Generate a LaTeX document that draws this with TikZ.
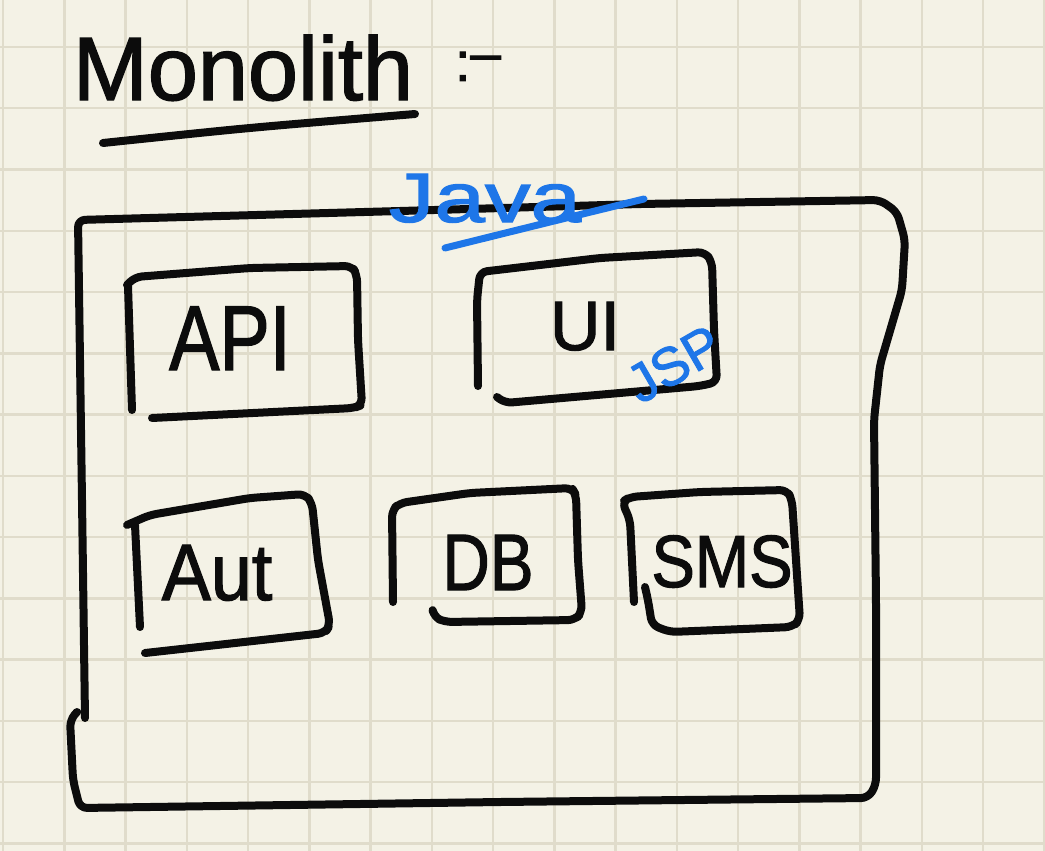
\documentclass[tikz,border=0pt]{standalone}
\usepackage{fontspec}
\setmainfont{Liberation Sans}
\newfontfamily\handfont{Liberation Sans}[FakeBold=1.6]
\definecolor{paper}{RGB}{244,242,230}
\definecolor{gridc}{RGB}{224,220,203}
\definecolor{pen}{RGB}{12,12,12}
\definecolor{bluepen}{RGB}{30,118,232}
\begin{document}
\begin{tikzpicture}[x=1pt,y=-1pt,
  ink/.style={draw=pen,line width=8pt,line cap=round,line join=round,rounded corners=7pt},
  blueink/.style={draw=bluepen,line width=7pt,line cap=round,line join=round},
  gridline/.style={draw=gridc,line width=2.5pt},
  hand/.style={text=pen,inner sep=0pt,anchor=base},
  bluehand/.style={text=bluepen,inner sep=0pt}]
\useasboundingbox (0,0) rectangle (1045,851);
\fill[paper] (0,0) rectangle (1045,851);
% grid paper
\foreach \k in {0,...,17} \draw[gridline] ({3+61.25*\k},0) -- ({3+61.25*\k},851);
\foreach \k in {0,...,13} \draw[gridline] (0,{47+61.25*\k}) -- (1045,{47+61.25*\k});

% title
\node[hand,font=\handfont\fontsize{90}{90}\selectfont] (title) at (243,100) {Monolith};
\node[hand,font=\handfont\fontsize{55}{55}\selectfont] (colon) at (478,81) {:\raisebox{0.17em}{–}};
\draw[ink] plot[smooth] coordinates {(103,143) (250,128) (415,114)};

% outer box
\draw[ink] (85,718) -- (82,500) -- (78,220) -- (400,211) -- (640,204) -- (880,200)
  -- (897,212) -- (905,240) -- (902,290) -- (880,365) -- (874,420) -- (876,600)
  -- (876,785) -- (868,798) -- (500,802) -- (80,808) -- (73,780) -- (70,720) -- (77,712);

% API box
\draw[ink] (127,285) -- (135,277) -- (250,268) -- (352,266) -- (357,275)
  -- (358,340) -- (362,405) -- (354,408) -- (152,418);
\draw[ink] (128,286) -- (132,410);
\node[hand,font=\handfont\fontsize{92}{92}\selectfont] (api) at (230,370) {\scalebox{0.82}[1]{API}};

% UI box
\draw[ink] (478,386) -- (477,300) -- (480,272) -- (600,258) -- (705,252) -- (712,262)
  -- (714,330) -- (717,382) -- (700,386) -- (505,403) -- (497,397);
\node[hand,font=\handfont\fontsize{70}{70}\selectfont] (ui) at (585,350) {UI};

% Aut box
\draw[ink] (127,525) -- (150,515) -- (250,498) -- (305,494) -- (312,503)
  -- (318,560) -- (330,625) -- (325,633) -- (145,653);
\draw[ink] (135,525) -- (140,627);
\node[hand,font=\handfont\fontsize{80}{80}\selectfont] (aut) at (217,600) {\scalebox{0.92}[1]{Aut}};

% DB box
\draw[ink] (393,602) -- (392,510) -- (400,503) -- (470,493) -- (572,488) -- (576,495)
  -- (578,560) -- (582,612) -- (575,620) -- (445,622) -- (434,617) -- (433,612);
\node[hand,font=\handfont\fontsize{80}{80}\selectfont] (db) at (488,590) {\scalebox{0.82}[1]{DB}};

% SMS box
\draw[ink] (634,602) -- (630,520) -- (622,502) -- (630,497) -- (700,492) -- (787,490)
  -- (792,500) -- (796,560) -- (800,620) -- (792,627) -- (670,632) -- (652,625)
  -- (648,600) -- (645,587);
\node[hand,font=\handfont\fontsize{74}{74}\selectfont] (sms) at (722,587) {\scalebox{0.88}[1]{SMS}};

% blue annotations
\node[bluehand,anchor=base,font=\handfont\fontsize{70}{70}\selectfont] (java) at (485,222) {\scalebox{1.3}[1]{Java}};
\draw[blueink] plot[smooth] coordinates {(445,248) (550,222) (644,199)};
\node[bluehand,rotate=30,font=\handfont\fontsize{54}{54}\selectfont] (jsp) at (674,364) {JSP};
\end{tikzpicture}
\end{document}
